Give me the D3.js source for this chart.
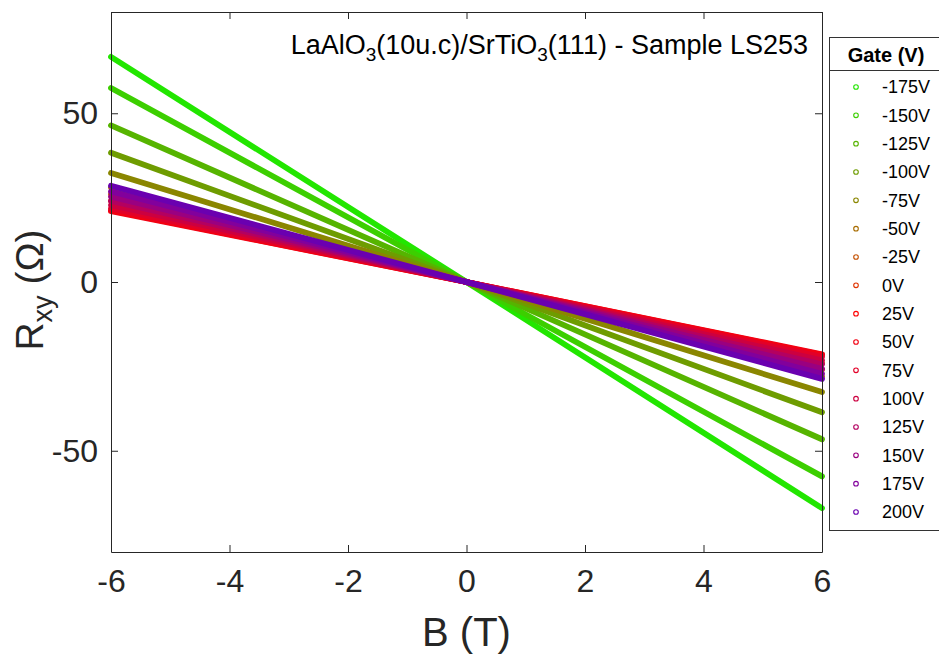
<!DOCTYPE html>
<html><head><meta charset="utf-8">
<script src="https://cdn.jsdelivr.net/npm/d3@7"></script>
<style>
html,body{margin:0;padding:0;background:#fff;}
svg{display:block;font-family:"Liberation Sans",Arial,Helvetica,sans-serif;}
</style></head>
<body>
<svg id="chart" width="939" height="659"></svg>
<script>
// ---- data ----
const fieldB = [-6, 0, 6];               // B (T)
const gateLabels = ["-175V","-150V","-125V","-100V","-75V","-50V","-25V","0V","25V","50V","75V","100V","125V","150V","175V","200V"];
const gateColors = ["#22e600","#3ccf00","#56b400","#6e9c00","#8a8600","#a86c00","#c45000","#e03400","#ff0000","#f20012","#e20028","#cc0040","#b40060","#9a0080","#82009c","#6a00b0"];
const rxy_m175 = [66.7, 0, -67.0];
const rxy_m150 = [57.5, 0, -57.6];
const rxy_m125 = [46.4, 0, -46.6];
const rxy_m100 = [38.3, 0, -38.6];
const rxy_m75  = [32.3, 0, -32.6];
const rxy_m50  = [28.0, 0, -28.0];
const rxy_m25  = [26.0, 0, -26.0];
const rxy_0    = [24.0, 0, -24.0];
const rxy_25   = [21.2, 0, -21.6];
const rxy_50   = [21.0, 0, -21.4];
const rxy_75   = [21.8, 0, -22.2];
const rxy_100  = [22.8, 0, -23.2];
const rxy_125  = [24.0, 0, -24.4];
const rxy_150  = [25.3, 0, -25.7];
const rxy_175  = [26.8, 0, -27.2];
const rxy_200  = [28.5, 0, -28.7];
const xTicks = [-6,-4,-2,0,2,4,6];
const yTicks = [-50,0,50];

const seriesValues = [rxy_m175,rxy_m150,rxy_m125,rxy_m100,rxy_m75,rxy_m50,rxy_m25,rxy_0,rxy_25,rxy_50,rxy_75,rxy_100,rxy_125,rxy_150,rxy_175,rxy_200];
const series = gateLabels.map((g,i)=>({gate:g,color:gateColors[i],pts:fieldB.map((b,j)=>[b,seriesValues[i][j]])}));

// ---- layout ----
const svg = d3.select("#chart");
const L = 111, R = 822, T = 12, B = 552;
const x = d3.scaleLinear().domain([-6,6]).range([L,R]);
const y = d3.scaleLinear().domain([-80,80]).range([B,T]);
const axisColor = "#262626";
const tickLen = 7;
const fmt = d => String(d);

// data lines
const line = d3.line().x(d=>x(d[0])).y(d=>y(d[1]));
const gPlot = svg.append("g");
series.forEach(s=>{
  gPlot.append("path").attr("d",line(s.pts)).attr("fill","none")
    .attr("stroke",s.color).attr("stroke-width",5.8).attr("stroke-linecap","round");
});

// axes (box style)
const xb = svg.append("g").attr("transform",`translate(0,${B})`)
  .call(d3.axisBottom(x).tickValues(xTicks).tickSizeInner(-tickLen).tickSizeOuter(0).tickPadding(17).tickFormat(fmt));
const xt = svg.append("g").attr("transform",`translate(0,${T})`)
  .call(d3.axisTop(x).tickValues(xTicks).tickSizeInner(-tickLen).tickSizeOuter(0).tickFormat(""));
const yl = svg.append("g").attr("transform",`translate(${L},0)`)
  .call(d3.axisLeft(y).tickValues(yTicks).tickSizeInner(-tickLen).tickSizeOuter(0).tickPadding(13).tickFormat(fmt));
const yr = svg.append("g").attr("transform",`translate(${R},0)`)
  .call(d3.axisRight(y).tickValues(yTicks).tickSizeInner(-tickLen).tickSizeOuter(0).tickFormat(""));
[xb,xt,yl,yr].forEach(g=>{
  g.selectAll(".domain").attr("stroke",axisColor).attr("stroke-width",1);
  g.selectAll(".tick line").attr("stroke",axisColor).attr("stroke-width",1);
  g.selectAll(".tick text").attr("fill",axisColor).attr("font-size",32).attr("font-family","Liberation Sans, Arial, sans-serif");
});
xb.selectAll(".tick text").attr("dy","0.71em");

// axis labels
svg.append("text").attr("x",(L+R)/2).attr("y",646).attr("text-anchor","middle")
  .attr("font-size",40).attr("fill",axisColor).text("B (T)");
const yLab = svg.append("text").attr("transform",`translate(43,${(T+B)/2 + 8}) rotate(-90)`)
  .attr("text-anchor","middle").attr("font-size",39).attr("fill",axisColor);
yLab.append("tspan").text("R");
yLab.append("tspan").attr("font-size",27).attr("dy",9).text("xy");
yLab.append("tspan").attr("dy",-9).text(" (Ω)");

// title
const title = svg.append("text").attr("x",808).attr("y",54).attr("text-anchor","end")
  .attr("font-size",27).attr("fill","#000");
title.append("tspan").text("LaAlO");
title.append("tspan").attr("font-size",19).attr("dy",7).text("3");
title.append("tspan").attr("dy",-7).text("(10u.c)/SrTiO");
title.append("tspan").attr("font-size",19).attr("dy",7).text("3");
title.append("tspan").attr("dy",-7).text("(111) - Sample LS253");

// legend
const lg = svg.append("g");
const lgX = 829, lgY = 37, lgW = 130, lgH = 493;
lg.append("rect").attr("x",lgX+0.5).attr("y",lgY+0.5).attr("width",lgW).attr("height",lgH)
  .attr("fill","#fff").attr("stroke","#333").attr("stroke-width",1);
lg.append("line").attr("x1",lgX).attr("x2",lgX+lgW).attr("y1",70.5).attr("y2",70.5)
  .attr("stroke","#333").attr("stroke-width",1);
lg.append("text").attr("x",886).attr("y",62).attr("text-anchor","middle")
  .attr("font-size",20).attr("font-weight","bold").attr("fill","#000").text("Gate (V)");
const ly = d3.scalePoint().domain(gateLabels).range([87,512]);
series.forEach(s=>{
  lg.append("circle").attr("cx",856).attr("cy",ly(s.gate)).attr("r",2.3)
    .attr("fill","none").attr("stroke",s.color).attr("stroke-width",1.1);
  lg.append("text").attr("x",882).attr("y",ly(s.gate)).attr("dy","0.36em")
    .attr("font-size",18).attr("fill","#000").text(s.gate);
});
</script>
</body></html>
